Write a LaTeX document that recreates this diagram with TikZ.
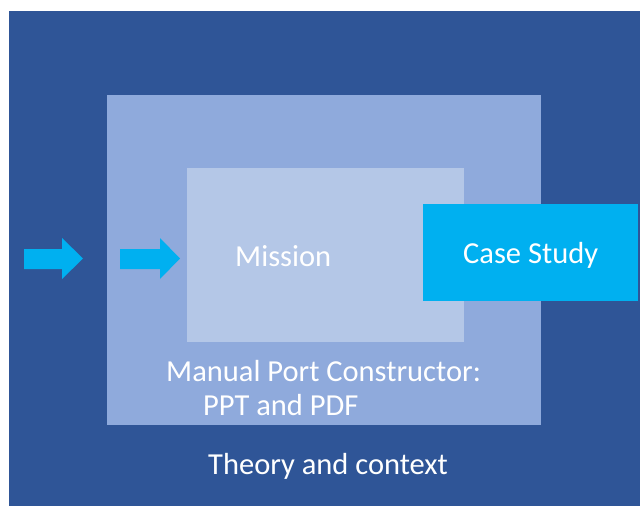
\documentclass[tikz,border=0pt]{standalone}
\usepackage{fontspec}
\setmainfont{Carlito}
\definecolor{deepblue}{HTML}{2F5597}
\definecolor{midblue}{HTML}{8FAADC}
\definecolor{paleblue}{HTML}{B4C7E7}
\definecolor{skyblue}{HTML}{00B0F0}
\tikzset{
  panel/.style={rectangle, inner sep=0pt, draw=none},
  label/.style={anchor=base west, inner sep=0pt, text=white, font=\fontsize{30.5}{35}\selectfont},
  flow/.style={fill=skyblue, draw=none}
}
\begin{document}
\begin{tikzpicture}[x=1pt, y=-1pt]
  \useasboundingbox (0,0) rectangle (640,506);
  \fill[white] (0,0) rectangle (640,506);

  % nested panels
  \node[panel, fill=deepblue, minimum width=631pt, minimum height=495pt] (theory) at (324.5,258.5) {};
  \node[panel, fill=midblue, minimum width=434pt, minimum height=330pt] (manual) at (324,260) {};
  \node[panel, fill=paleblue, minimum width=277pt, minimum height=174pt] (mission) at (325.5,255) {};
  \node[panel, fill=skyblue, minimum width=215pt, minimum height=97pt] (case) at (530.5,252.5) {};

  % block arrows
  \fill[flow] (24,249) -- (62,249) -- (62,238) -- (83,258.5) -- (62,279) -- (62,269) -- (24,269) -- cycle;
  \fill[flow] (120,249) -- (160,249) -- (160,238) -- (180,258.5) -- (160,279) -- (160,269) -- (120,269) -- cycle;

  % captions
  \node[label] (missiontext) at (235,266) {Mission};
  \node[label] (casetext) at (463,263) {Case Study};
  \node[label] (manualtext) at (166,381) {Manual Port Constructor:};
  \node[label] (formattext) at (203,415) {PPT and PDF};
  \node[label] (theorytext) at (208,474) {Theory and context};
\end{tikzpicture}
\end{document}
